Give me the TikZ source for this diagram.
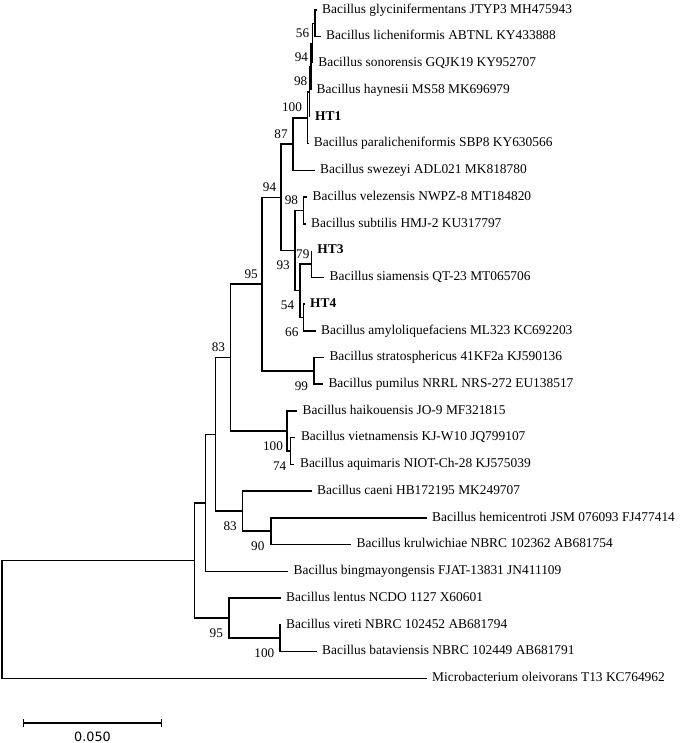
\documentclass[tikz,border=0pt]{standalone}
\usepackage{fontspec}
\setmainfont{Liberation Serif}
\newfontfamily\barfont{DejaVu Sans}
\usetikzlibrary{arrows.meta}
\newcommand\clade[3]{\draw[br] (#2) -| (#1) |- (#3);}
\begin{document}
\begin{tikzpicture}[x=1pt,y=-1pt,
  br/.style={line width=1.5pt},
  leaf/.style={anchor=west, inner xsep=5.5pt, inner ysep=0pt, text height=.75em, text depth=.1em, font=\fontsize{13.4}{15}\selectfont},
  bs/.style={inner sep=0pt, font=\fontsize{13.2}{15}\selectfont}]
\useasboundingbox (0,0) rectangle (685,743);
% leaves
\node[leaf] (l1) at (316.5,10) {Bacillus glycinifermentans JTYP3 MH475943};
\node[leaf] (l2) at (320.5,36.73) {Bacillus licheniformis ABTNL KY433888};
\node[leaf] (l3) at (312.7,63.46) {Bacillus sonorensis GQJK19 KY952707};
\node[leaf] (l4) at (311,90.19) {Bacillus haynesii MS58 MK696979};
\node[leaf] (l5) at (309.5,116.92) {\textbf{HT1}};
\node[leaf] (l6) at (308.2,143.65) {Bacillus paralicheniformis SBP8 KY630566};
\node[leaf] (l7) at (314.5,170.38) {Bacillus swezeyi ADL021 MK818780};
\node[leaf] (l8) at (307,197.11) {Bacillus velezensis NWPZ-8 MT184820};
\node[leaf] (l9) at (305.5,223.84) {Bacillus subtilis HMJ-2 KU317797};
\node[leaf] (l10) at (311.7,250.57) {\textbf{HT3}};
\node[leaf] (l11) at (324,277.3) {Bacillus siamensis QT-23 MT065706};
\node[leaf] (l12) at (304.5,304.03) {\textbf{HT4}};
\node[leaf] (l13) at (315.5,330.76) {Bacillus amyloliquefaciens ML323 KC692203};
\node[leaf] (l14) at (323.8,357.49) {Bacillus stratosphericus 41KF2a KJ590136};
\node[leaf] (l15) at (322.8,384.22) {Bacillus pumilus NRRL NRS-272 EU138517};
\node[leaf] (l16) at (297,410.95) {Bacillus haikouensis JO-9 MF321815};
\node[leaf] (l17) at (295.3,437.68) {Bacillus vietnamensis KJ-W10 JQ799107};
\node[leaf] (l18) at (294.4,464.41) {Bacillus aquimaris NIOT-Ch-28 KJ575039};
\node[leaf] (l19) at (311.5,491.14) {Bacillus caeni HB172195 MK249707};
\node[leaf] (l20) at (426.5,517.87) {Bacillus hemicentroti JSM 076093 FJ477414};
\node[leaf] (l21) at (351,544.6) {Bacillus krulwichiae NBRC 102362 AB681754};
\node[leaf] (l22) at (288,571.33) {Bacillus bingmayongensis FJAT-13831 JN411109};
\node[leaf] (l23) at (280.5,598.06) {Bacillus lentus NCDO 1127 X60601};
\node[leaf] (l24) at (280.5,624.79) {Bacillus vireti NBRC 102452 AB681794};
\node[leaf] (l25) at (316.5,651.52) {Bacillus bataviensis NBRC 102449 AB681791};
\node[leaf] (l26) at (426.5,678.25) {Microbacterium oleivorans T13 KC764962};
% internal nodes
\coordinate (Na) at (315,23.37);
\coordinate (Nb) at (312.7,43.41);
\coordinate (Nc) at (311,66.80);
\coordinate (Nd) at (309.5,91.86);
\coordinate (Ne) at (307.7,117.76);
\coordinate (Nf) at (293,144.07);
\coordinate (Nvs) at (303.3,210.48);
\coordinate (Nht3) at (311.7,263.94);
\coordinate (Nht4) at (303.5,317.40);
\coordinate (N300) at (300,290.67);
\coordinate (N295) at (295,250.58);
\coordinate (N280) at (281,197.32);
\coordinate (Nsp) at (314,370.86);
\coordinate (N262) at (262.1,284.09);
\coordinate (Nva) at (290.5,451.05);
\coordinate (N287) at (287,431.0);
\coordinate (N231) at (230.7,357.55);
\coordinate (Nhk) at (270.9,531.24);
\coordinate (N243) at (242.5,511.19);
\coordinate (N215) at (215.4,434.37);
\coordinate (N205) at (205.3,502.85);
\coordinate (Nvb) at (280,638.16);
\coordinate (N229) at (229,618.11);
\coordinate (N194) at (194.4,560.48);
\coordinate (Nr) at (2,619.37);
% branches
\clade{Na}{l1.west}{l2.west}
\clade{Nb}{Na}{l3.west}
\clade{Nc}{Nb}{l4.west}
\clade{Nd}{Nc}{l5.west}
\clade{Ne}{Nd}{l6.west}
\clade{Nf}{Ne}{l7.west}
\clade{Nvs}{l8.west}{l9.west}
\clade{Nht3}{l10.west}{l11.west}
\clade{Nht4}{l12.west}{l13.west}
\clade{N300}{Nht3}{Nht4}
\clade{N295}{Nvs}{N300}
\clade{N280}{Nf}{N295}
\clade{Nsp}{l14.west}{l15.west}
\clade{N262}{N280}{Nsp}
\clade{Nva}{l17.west}{l18.west}
\clade{N287}{l16.west}{Nva}
\clade{N231}{N262}{N287}
\clade{Nhk}{l20.west}{l21.west}
\clade{N243}{l19.west}{Nhk}
\clade{N215}{N231}{N243}
\clade{N205}{N215}{l22.west}
\clade{Nvb}{l24.west}{l25.west}
\clade{N229}{l23.west}{Nvb}
\clade{N194}{N205}{N229}
\clade{Nr}{N194}{l26.west}
% bootstrap values
\node[bs] (b1) at (302.5,33.4) {56};
\node[bs] (b2) at (301.4,57) {94};
\node[bs] (b3) at (300.6,81) {98};
\node[bs] (b4) at (292,107) {100};
\node[bs] (b5) at (281,134) {87};
\node[bs] (b6) at (269.5,187.3) {94};
\node[bs] (b7) at (291.4,200.5) {98};
\node[bs] (b8) at (302.8,253.9) {79};
\node[bs] (b9) at (283.1,265.6) {93};
\node[bs] (b10) at (287.5,305.5) {54};
\node[bs] (b11) at (291.8,332.4) {66};
\node[bs] (b12) at (251.2,274.1) {95};
\node[bs] (b13) at (301.4,385.9) {99};
\node[bs] (b14) at (218.4,347.6) {83};
\node[bs] (b15) at (273,446) {100};
\node[bs] (b16) at (279.6,466) {74};
\node[bs] (b17) at (230.2,526.2) {83};
\node[bs] (b18) at (257.8,546.2) {90};
\node[bs] (b19) at (216.3,633.1) {95};
\node[bs] (b20) at (264.3,653.2) {100};
% scale bar
\coordinate (sbL) at (22.7,723);
\coordinate (sbR) at (162.3,723);
\draw[line width=1.8pt, {Bar[width=8pt,line width=1.6pt]}-{Bar[width=8pt,line width=1.6pt]}] (sbL) -- (sbR);
\node[inner sep=0pt, font=\barfont\fontsize{12.8}{14}\selectfont] (sbt) at (92.5,736.5) {0.050};
\end{tikzpicture}
\end{document}
